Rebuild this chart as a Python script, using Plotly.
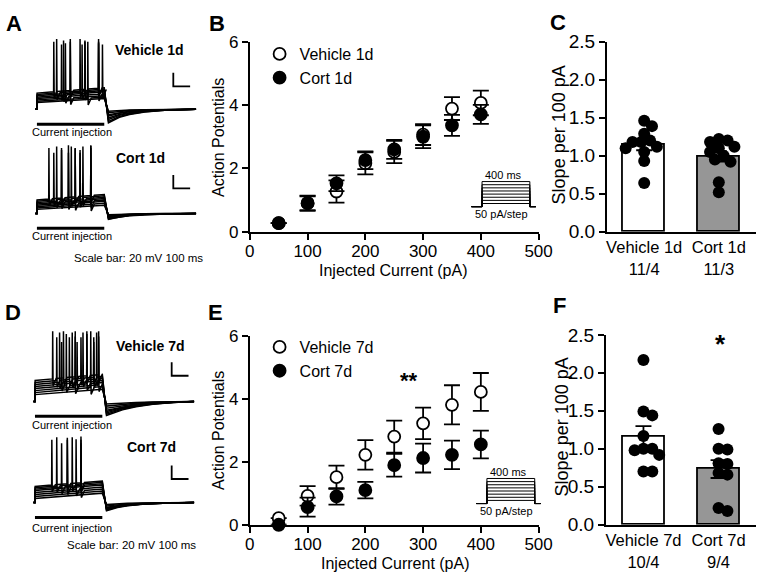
import plotly.graph_objects as go

W, H = 775, 583
FONT = "Liberation Sans, Arial, sans-serif"

# ---------------- data ----------------
currents = [50, 100, 150, 200, 250, 300, 350, 400]
veh1d_ap = [0.27, 0.90, 1.27, 2.16, 2.52, 3.07, 3.89, 4.07]
veh1d_sem = [0.0, 0.22, 0.35, 0.35, 0.35, 0.33, 0.36, 0.39]
cort1d_ap = [0.27, 0.90, 1.53, 2.26, 2.60, 3.00, 3.36, 3.71]
cort1d_sem = [0.0, 0.24, 0.25, 0.28, 0.30, 0.36, 0.33, 0.30]
veh7d_ap = [0.21, 0.92, 1.51, 2.22, 2.80, 3.22, 3.81, 4.22]
veh7d_sem = [0.0, 0.31, 0.37, 0.47, 0.51, 0.50, 0.62, 0.60]
cort7d_ap = [0.0, 0.56, 0.90, 1.10, 1.89, 2.12, 2.22, 2.55]
cort7d_sem = [0.0, 0.30, 0.26, 0.26, 0.36, 0.46, 0.45, 0.44]

groups_1d = ["Vehicle 1d", "Cort 1d"]
n_1d = ["11/4", "11/3"]
groups_7d = ["Vehicle 7d", "Cort 7d"]
n_7d = ["10/4", "9/4"]
veh1d_slope = [1.46, 1.39, 1.29, 1.20, 1.18, 1.18, 1.12, 1.10, 1.05, 0.93, 0.64]
cort1d_slope = [1.22, 1.20, 1.18, 1.12, 1.10, 1.05, 1.00, 0.95, 0.92, 0.65, 0.52]
veh7d_slope = [2.17, 1.49, 1.44, 1.17, 1.00, 1.00, 0.98, 0.92, 0.70, 0.70]
cort7d_slope = [1.26, 1.00, 0.99, 0.81, 0.80, 0.68, 0.66, 0.22, 0.18]

# example recordings (relative membrane potential, mV; times in ms)
veh1d_p0 = [10, 12, 14, 16, 18, 20, 22, 24]
veh1d_p1 = [16, 18, 20, 23, 26, 28, 30, 32]
veh1d_ahp = [-3, -5, -8, -10, -13, -15, -18, -20]
veh1d_peak = [95, 100, 104, 98, 102, 96, 104, 100]
veh1d_spikes = [[], [301], [197], [168, 365], [157, 284], [145, 267, 388], [116, 255, 365], [99, 197, 284, 365]]

cort1d_p0 = [6, 8, 10, 12, 14, 16, 18, 20]
cort1d_p1 = [12, 15, 18, 20, 22, 24, 26, 28]
cort1d_ahp = [-2, -3, -4, -5, -6, -7, -8, -9]
cort1d_peak = [92, 100, 96, 101, 94, 99, 90, 97]
cort1d_spikes = [[], [319], [226], [186, 319], [145, 255], [116, 203, 272], [99, 186, 255], [70, 145, 226, 319]]

veh7d_p0 = [10, 13, 16, 19, 22, 25, 28, 31]
veh7d_p1 = [18, 22, 25, 28, 31, 34, 37, 40]
veh7d_ahp = [-4, -7, -10, -13, -15, -17, -19, -21]
veh7d_peak = [90, 104, 96, 100, 88, 102, 95, 104]
veh7d_spikes = [[], [330], [238, 377], [185, 307], [157, 249, 348], [145, 220, 284, 365], [128, 203, 272, 348], [104, 168, 238, 307, 377]]

cort7d_p0 = [6, 9, 12, 15, 18, 20, 22, 24]
cort7d_p1 = [14, 17, 20, 23, 26, 28, 30, 32]
cort7d_ahp = [-3, -5, -7, -8, -9, -10, -11, -12]
cort7d_peak = [90, 92, 98, 94, 96, 88, 97, 93]
cort7d_spikes = [[], [], [272], [243], [191], [157, 272], [128, 220], [99, 191, 272]]

recovery_t = [425, 450, 490, 550, 640, 760, 946]
recovery_f = [1.0, 0.85, 0.6, 0.38, 0.2, 0.08, 0.0]
recovery_t_slow = [425, 465, 520, 600, 700, 820, 946]

step_ms = 400
scale_mv = 20
scale_ms = 100

# ---------------- helpers ----------------
def dx(a, b):
    return [a / W, b / W]

def dy(top, bottom):
    return [1 - bottom / H, 1 - top / H]

def mean(v):
    return sum(v) / len(v)

def sem(v):
    m = mean(v)
    var = sum((x - m) ** 2 for x in v) / (len(v) - 1)
    return (var / len(v)) ** 0.5

def swarm(vals, px_per_y, px_per_x, diam, step=1.0):
    order = sorted(range(len(vals)), key=lambda i: -vals[i])
    placed = []
    offs = [0.0] * len(vals)
    for i in order:
        yv = vals[i] * px_per_y
        cands = [0.0]
        k = 1
        while k < 80:
            cands += [k * step, -k * step]
            k += 1
        chosen = 0.0
        for c in cands:
            if all((c - px_) ** 2 + (yv - py_) ** 2 >= diam ** 2 for px_, py_ in placed):
                chosen = c
                break
        placed.append((chosen, yv))
        offs[i] = chosen / px_per_x
    return offs

def sweep(p0, p1, spikes, peak, ahp, rt):
    def base(t):
        return p0 + (p1 - p0) * t / step_ms
    xs, ys = [-10, 0, 1], [0, 0, base(0)]
    for t in spikes:
        xs += [t, t + 1.2, t + 3.5, t + 22]
        ys += [base(t), peak, base(t) - 10, base(t + 22)]
    xs += [step_ms]
    ys += [p1]
    for t, f in zip(rt, recovery_f):
        xs.append(t)
        ys.append(ahp * f)
    return xs, ys

fig = go.Figure()

# ---------------- B and E: action potentials vs current ----------------
def ap_panel(xa, ya, veh, vsem, cort, csem, names, leg):
    fig.add_trace(go.Scatter(
        x=currents, y=veh, mode="markers", name=names[0], legend=leg,
        error_y=dict(type="data", array=vsem, color="black", thickness=1.8, width=8),
        marker=dict(symbol="circle", size=12, color="white", line=dict(color="black", width=1.8)),
        cliponaxis=False, xaxis=xa, yaxis=ya))
    fig.add_trace(go.Scatter(
        x=currents, y=cort, mode="markers", name=names[1], legend=leg,
        error_y=dict(type="data", array=csem, color="black", thickness=1.8, width=8),
        marker=dict(symbol="circle", size=12, color="black", line=dict(color="black", width=1.8)),
        cliponaxis=False, xaxis=xa, yaxis=ya))

ap_panel("x", "y", veh1d_ap, veh1d_sem, cort1d_ap, cort1d_sem, groups_1d, "legend")
ap_panel("x3", "y3", veh7d_ap, veh7d_sem, cort7d_ap, cort7d_sem, groups_7d, "legend2")

# ---------------- C and F: slope bars with individual cells ----------------
def bar_panel(xa, ya, veh, cort):
    means = [mean(veh), mean(cort)]
    sems = [sem(veh), sem(cort)]
    fig.add_trace(go.Bar(
        x=[0, 1], y=means, width=0.56, showlegend=False,
        marker=dict(color=["white", "#969696"], line=dict(color="black", width=1.8)),
        error_y=dict(type="data", array=sems, color="black", thickness=1.8, width=8),
        xaxis=xa, yaxis=ya))
    for gi, vals in enumerate([veh, cort]):
        offs = swarm(vals, 197 / 2.5, 153 / 2.0, 9.0)
        fig.add_trace(go.Scatter(
            x=[gi + o for o in offs], y=vals, mode="markers", showlegend=False,
            marker=dict(size=12, color="black"), cliponaxis=False, xaxis=xa, yaxis=ya))

bar_panel("x2", "y2", veh1d_slope, cort1d_slope)
bar_panel("x4", "y4", veh7d_slope, cort7d_slope)

# ---------------- A and D: example recordings ----------------
recs = [
    ("x5", "y5", veh1d_p0, veh1d_p1, veh1d_spikes, veh1d_peak, veh1d_ahp, recovery_t, (810, 34)),
    ("x6", "y6", cort1d_p0, cort1d_p1, cort1d_spikes, cort1d_peak, cort1d_ahp, recovery_t, (810, 37)),
    ("x7", "y7", veh7d_p0, veh7d_p1, veh7d_spikes, veh7d_peak, veh7d_ahp, recovery_t_slow, (812, 38)),
    ("x8", "y8", cort7d_p0, cort7d_p1, cort7d_spikes, cort7d_peak, cort7d_ahp, recovery_t, (812, 35)),
]
for xa, ya, p0s, p1s, sps, pks, ahps, rt, sb in recs:
    for i in range(len(p0s)):
        xs, ys = sweep(p0s[i], p1s[i], sps[i], pks[i], ahps[i], rt)
        fig.add_trace(go.Scatter(x=xs, y=ys, mode="lines", showlegend=False,
                                 line=dict(color="black", width=1.5), xaxis=xa, yaxis=ya))
    fig.add_trace(go.Scatter(x=[0, step_ms], y=[-22, -22], mode="lines", showlegend=False,
                             line=dict(color="black", width=3), xaxis=xa, yaxis=ya))
    fig.add_trace(go.Scatter(x=[sb[0], sb[0], sb[0] + scale_ms], y=[sb[1] + scale_mv, sb[1], sb[1]],
                             mode="lines", showlegend=False,
                             line=dict(color="black", width=1.8), xaxis=xa, yaxis=ya))

# ---------------- stimulus insets ----------------
for xa, ya in [("x9", "y9"), ("x10", "y10")]:
    for amp in currents:
        fig.add_trace(go.Scatter(x=[-90, 0, 0, step_ms, step_ms, 450], y=[0, 0, amp, amp, 0, 0],
                                 mode="lines", showlegend=False,
                                 line=dict(color="black", width=1.0), xaxis=xa, yaxis=ya))

# ---------------- layout ----------------
tickfont_ap = dict(family=FONT, size=17, color="black")
tickfont_bar = dict(family=FONT, size=19, color="black")
common = dict(showgrid=False, zeroline=False, showline=True, linecolor="black", linewidth=1.8,
              ticks="outside", ticklen=6, tickwidth=1.8, tickcolor="black")

def ap_axes(xd, yd, xa, ya):
    return (dict(domain=xd, range=[0, 500], tickvals=[0, 100, 200, 300, 400, 500],
                 tickfont=tickfont_ap, anchor=ya, ticklabelstandoff=-3, **common),
            dict(domain=yd, range=[0, 6], tickvals=[0, 2, 4, 6], tickfont=tickfont_ap, anchor=xa, **common))

def bar_axes(xd, yd, xa, ya, cats, ns):
    c2 = dict(common)
    c2["ticks"] = ""
    return (dict(domain=xd, range=[-0.5, 1.5], tickvals=[0, 1],
                 ticktext=[f"{c}<br>{n}" for c, n in zip(cats, ns)],
                 tickfont=dict(family=FONT, size=16.5, color="black"), anchor=ya, **c2),
            dict(domain=yd, range=[0, 2.5], tickvals=[0, 0.5, 1, 1.5, 2, 2.5], tickformat=".1f",
                 tickfont=tickfont_bar, anchor=xa, **common))

xB, yB = ap_axes(dx(251, 547), dy(33, 230), "x", "y")
xE, yE = ap_axes(dx(251, 547), dy(338, 534), "x3", "y3")
xC, yC = bar_axes(dx(617, 770), dy(33, 230), "x2", "y2", groups_1d, n_1d)
xF, yF = bar_axes(dx(616, 770), dy(337, 534), "x4", "y4", groups_7d, n_7d)

hidden = dict(visible=False, showgrid=False, zeroline=False, fixedrange=True)
def trace_axes(x0, x1, base_px):
    return (dict(domain=dx(x0, x1), range=[-10, 946], **hidden),
            dict(domain=dy(base_px - 80, base_px + 25), range=[-25 / 0.7, 80 / 0.7], **hidden))

x5, y5 = trace_axes(31, 196, 103)
x6, y6 = trace_axes(31, 196, 211)
x7, y7 = trace_axes(29, 194, 406)
x8, y8 = trace_axes(29, 194, 511)

def stim_axes(shx, shy):
    return (dict(domain=dx(478 + shx, 546 + shx), range=[-90, 465], **hidden),
            dict(domain=dy(175 + shy, 206 + shy), range=[-31, 446], **hidden))

x9, y9 = stim_axes(0, 0)
x10, y10 = stim_axes(5, 308)

annotations = []
def ann(text, xp, yp, size, bold=False, angle=0, family=FONT):
    t = f"<b>{text}</b>" if bold else text
    annotations.append(dict(text=t, x=xp / W, y=1 - yp / H, xref="paper", yref="paper",
                            showarrow=False, xanchor="center", yanchor="middle", textangle=angle,
                            font=dict(family=family, size=size, color="black")))

ann("A", 9, 14, 22, True)
ann("B", 217, 14, 22, True)
ann("C", 567, 13, 22, True)
ann("D", 8, 314, 22, True)
ann("E", 216, 314, 22, True)
ann("F", 568, 307, 22, True)
ann("Vehicle 1d", 148, 41, 14, True)
ann("Cort 1d", 139, 154, 14, True)
ann("Vehicle 7d", 149, 349, 14, True)
ann("Cort 7d", 150, 453, 14, True)
for yp in [127, 234, 431, 537]:
    ann("Current injection", 69, yp, 11)
ann("Scale bar: 20 mV 100 ms", 137, 257, 11.5)
ann("Scale bar: 20 mV 100 ms", 130, 555, 11.5)
ann("Action Potentials", 219, 132, 16, angle=-90)
ann("Action Potentials", 219, 436, 16, angle=-90)
ann("Injected Current (pA)", 398, 270, 16)
ann("Injected Current (pA)", 400, 574, 16)
ann("Slope per 100 pA", 568, 130, 18, angle=-90)
ann("Slope per 100 pA", 571, 433, 18, angle=-90)
ann("400 ms", 511, 171, 11)
ann("50 pA/step", 509, 212, 11)
ann("400 ms", 516, 479, 11)
ann("50 pA/step", 514, 520, 11)
ann("**", 414, 384, 22, True)
ann("*", 733, 346, 26, True)

legend_common = dict(xanchor="left", yanchor="top", bgcolor="rgba(0,0,0,0)",
                     font=dict(family=FONT, size=16, color="black"), tracegroupgap=0)

fig.update_layout(
    width=W, height=H, margin=dict(l=0, r=0, t=0, b=0),
    paper_bgcolor="white", plot_bgcolor="white",
    xaxis=xB, yaxis=yB, xaxis2=xC, yaxis2=yC, xaxis3=xE, yaxis3=yE, xaxis4=xF, yaxis4=yF,
    xaxis5=x5, yaxis5=y5, xaxis6=x6, yaxis6=y6, xaxis7=x7, yaxis7=y7, xaxis8=x8, yaxis8=y8,
    xaxis9=x9, yaxis9=y9, xaxis10=x10, yaxis10=y10,
    legend=dict(x=261 / W, y=1 - 28 / H, **legend_common),
    legend2=dict(x=261 / W, y=1 - 332 / H, **legend_common),
    annotations=annotations, bargap=0, showlegend=True,
)

fig.write_html("out.html", config={"displayModeBar": False},
               post_script="document.body.style.margin='0';document.body.style.overflow='hidden';")
